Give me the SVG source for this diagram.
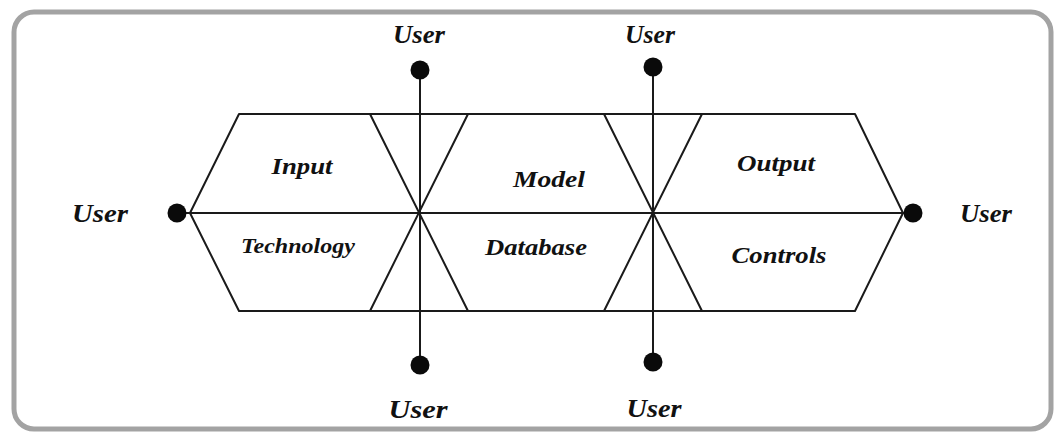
<svg xmlns="http://www.w3.org/2000/svg" width="1054" height="433" viewBox="0 0 1054 433">
  <style>
    .frame { fill: #ffffff; stroke: #a3a3a3; stroke-width: 5; }
    .edge { fill: none; stroke: #1a1a1a; stroke-width: 2; stroke-linecap: round; stroke-linejoin: round; }
    .dot { fill: #0a0a0a; }
    .lbl { font-family: "Liberation Serif", "Times New Roman", serif; font-weight: bold; font-style: italic; fill: #111111; text-anchor: middle; }
    .user { font-size: 26px; }
    .part { font-size: 24px; }
    .part-sm { font-size: 21px; }
  </style>

  <!-- outer rounded frame -->
  <rect class="frame" x="14" y="12" width="1037" height="417" rx="20" ry="20"/>

  <!-- hexagonal body split by two crossings -->
  <g id="body">
    <path class="edge" d="M239,114 L855,114 L903,213 L855,311 L239,311 L190,213 Z"/>
    <line class="edge" x1="370" y1="114" x2="468" y2="311"/>
    <line class="edge" x1="468" y1="114" x2="370" y2="311"/>
    <line class="edge" x1="604" y1="114" x2="702" y2="311"/>
    <line class="edge" x1="702" y1="114" x2="604" y2="311"/>
  </g>

  <!-- axes joining the users -->
  <g id="connectors">
    <line class="edge" x1="177" y1="213" x2="913" y2="213"/>
    <line class="edge" x1="420" y1="70" x2="420" y2="365"/>
    <line class="edge" x1="653" y1="67" x2="653" y2="362"/>
  </g>

  <!-- segment labels -->
  <g id="input"><text class="lbl part" x="302" y="174" textLength="61" lengthAdjust="spacingAndGlyphs">Input</text></g>
  <g id="technology"><text class="lbl part-sm" x="298" y="253" textLength="114" lengthAdjust="spacingAndGlyphs">Technology</text></g>
  <g id="model"><text class="lbl part" x="549" y="187" textLength="72" lengthAdjust="spacingAndGlyphs">Model</text></g>
  <g id="database"><text class="lbl part" x="536" y="255" textLength="102" lengthAdjust="spacingAndGlyphs">Database</text></g>
  <g id="output"><text class="lbl part" x="776" y="171" textLength="78" lengthAdjust="spacingAndGlyphs">Output</text></g>
  <g id="controls"><text class="lbl part" x="779" y="263" textLength="95" lengthAdjust="spacingAndGlyphs">Controls</text></g>

  <!-- user endpoints -->
  <g id="user-left">
    <circle class="dot" cx="177" cy="213" r="9.5"/>
    <text class="lbl user" x="100" y="222" textLength="56" lengthAdjust="spacingAndGlyphs">User</text>
  </g>
  <g id="user-right">
    <circle class="dot" cx="913" cy="213" r="9.5"/>
    <text class="lbl user" x="986" y="222" textLength="52" lengthAdjust="spacingAndGlyphs">User</text>
  </g>
  <g id="user-top-1">
    <circle class="dot" cx="420" cy="70" r="9.5"/>
    <text class="lbl user" x="419" y="43" textLength="52" lengthAdjust="spacingAndGlyphs">User</text>
  </g>
  <g id="user-top-2">
    <circle class="dot" cx="653" cy="67" r="9.5"/>
    <text class="lbl user" x="650" y="43" textLength="50" lengthAdjust="spacingAndGlyphs">User</text>
  </g>
  <g id="user-bottom-1">
    <circle class="dot" cx="420" cy="365" r="9.5"/>
    <text class="lbl user" x="418" y="418" textLength="59" lengthAdjust="spacingAndGlyphs">User</text>
  </g>
  <g id="user-bottom-2">
    <circle class="dot" cx="653" cy="362" r="9.5"/>
    <text class="lbl user" x="654" y="417" textLength="55" lengthAdjust="spacingAndGlyphs">User</text>
  </g>
</svg>
